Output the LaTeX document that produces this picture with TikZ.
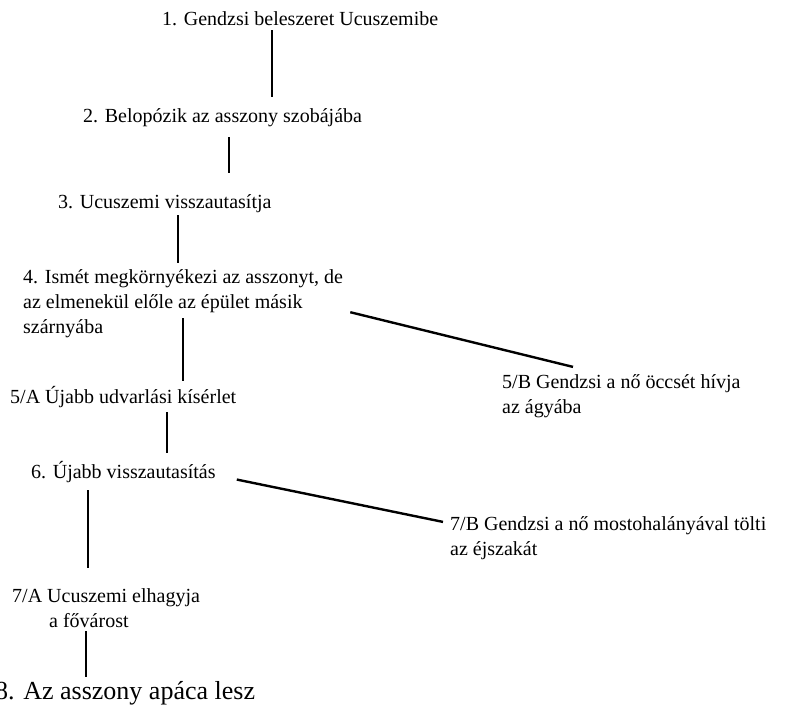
\documentclass[tikz,border=0pt]{standalone}
\usepackage{fontspec}
\setmainfont{Liberation Serif}
\usetikzlibrary{positioning}

\begin{document}
\begin{tikzpicture}[x=1pt, y=-1pt,
    every node/.style={font=\fontsize{20}{25}\selectfont, inner sep=0pt},
    event/.style={anchor=base west, align=left},
    link/.style={line width=2.4pt}]
  \useasboundingbox (0,0) rectangle (791,713);
  % Events, main line (multi-line nodes sit on their last baseline)
  \node[event] (e1)  at (162,25)  {1. Gendzsi beleszeret Ucuszemibe};
  \node[event] (e2)  at (83,122)  {2. Belopózik az asszony szobájába};
  \node[event] (e3)  at (58,208)  {3. Ucuszemi visszautasítja};
  \node[event] (e4)  at (23,333)  {4. Ismét megkörnyékezi az asszonyt, de\\az elmenekül előle az épület másik\\szárnyába};
  \node[event] (e5a) at (10,403)  {5/A Újabb udvarlási kísérlet};
  \node[event] (e6)  at (31,478)  {6. Újabb visszautasítás};
  \node[event] (e7a) at (12,627)  {7/A Ucuszemi elhagyja\\\hspace*{37pt}a fővárost};
  \node[event, font=\fontsize{26}{31}\selectfont] (e8) at (-5,699) {8. Az asszony apáca lesz};
  % Side branches
  \node[event] (e5b) at (502,413) {5/B Gendzsi a nő öccsét hívja\\az ágyába};
  \node[event] (e7b) at (450,555) {7/B Gendzsi a nő mostohalányával tölti\\az éjszakát};
  % Connectors
  \draw[link, shorten <=5pt, shorten >=11pt] (e1.south -| 272,0) -- (e2.north -| 272,0);
  \draw[link, shorten <=10.6pt, shorten >=21pt] (e2.south -| 229,0) -- (e3.north -| 229,0);
  \draw[link, shorten <=3pt, shorten >=6pt] (e3.south -| 178,0) -- (e4.north -| 178,0);
  \draw[link, shorten <=-19.4pt, shorten >=5pt] (e4.south -| 183,0) -- (e5a.north -| 183,0);
  \draw[link, shorten <=4.6pt, shorten >=8pt] (e5a.south -| 167,0) -- (e6.north -| 167,0);
  \draw[link, shorten <=7.6pt, shorten >=20pt] (e6.south -| 88,0) -- (e7a.north -| 88,0);
  \draw[link, shorten <=4pt, shorten >=4pt] (e7a.south -| 86,0) -- (e8.north -| 86,0);
  \draw[link] ([shift={(7,9)}]e4.east) -- ([shift={(71,-7)}]e5b.north west);
  \draw[link] ([shift={(21,8)}]e6.east) -- ([shift={(-7,6)}]e7b.north west);
\end{tikzpicture}
\end{document}
